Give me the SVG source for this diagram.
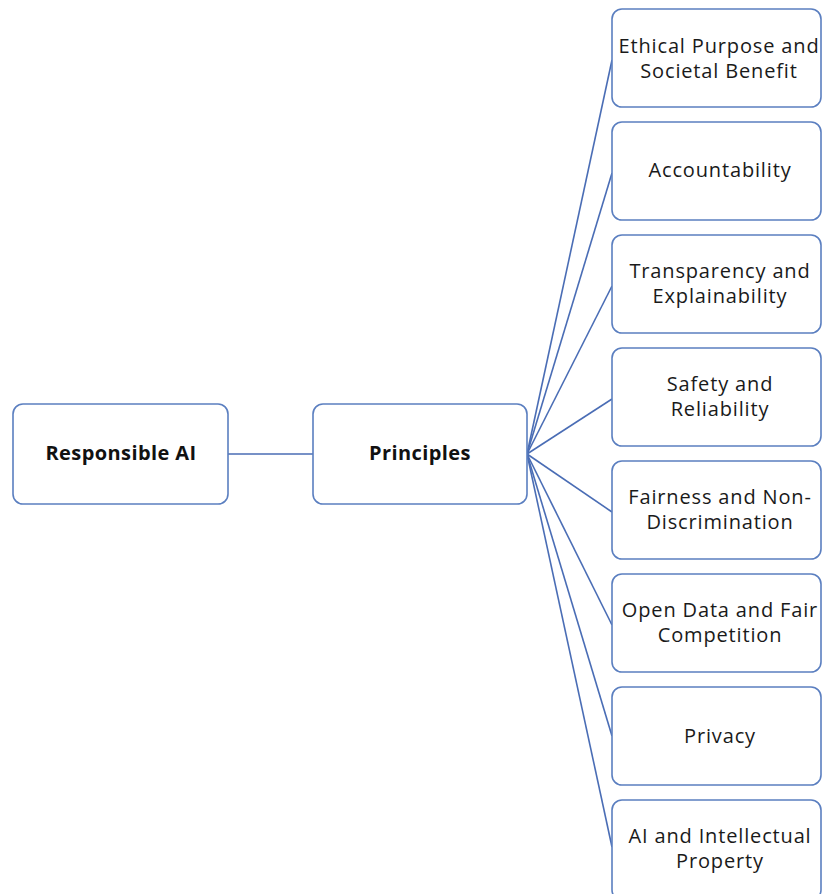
<svg xmlns="http://www.w3.org/2000/svg" width="822" height="894" viewBox="0 0 822 894">
<style>
.box{fill:#fff;stroke:#5b7fc0;stroke-width:1.6}
.t{font-family:"Open Sans","Liberation Sans",sans-serif;font-size:20px;letter-spacing:0.85px;fill:#1a1a1a;text-anchor:middle}
.b{font-family:"Open Sans","Liberation Sans",sans-serif;font-size:20px;letter-spacing:0.4px;font-weight:bold;fill:#111;text-anchor:middle}
.c{stroke:#4a6db5;stroke-width:1.6;fill:none}
</style>
<rect width="822" height="894" fill="#fff"/>
<g id="connectors">
<line class="c" x1="228" y1="454" x2="313" y2="454"/>
<line class="c" x1="527" y1="454" x2="612" y2="60"/>
<line class="c" x1="527" y1="454" x2="612" y2="173"/>
<line class="c" x1="527" y1="454" x2="612" y2="286"/>
<line class="c" x1="527" y1="454" x2="612" y2="399"/>
<line class="c" x1="527" y1="454" x2="612" y2="512"/>
<line class="c" x1="527" y1="454" x2="612" y2="625"/>
<line class="c" x1="527" y1="454" x2="612" y2="736"/>
<line class="c" x1="527" y1="454" x2="612" y2="847"/>
</g>
<g id="responsible-ai"><rect class="box" x="13" y="404" width="215" height="100" rx="10"/><text class="b" x="121" y="460">Responsible AI</text></g>
<g id="principles"><rect class="box" x="313" y="404" width="214" height="100" rx="10"/><text class="b" x="420" y="460">Principles</text></g>
<g id="n1"><rect class="box" x="612" y="9" width="209" height="98" rx="10"/><text class="t" x="719" y="53">Ethical Purpose and</text><text class="t" x="719" y="78">Societal Benefit</text></g>
<g id="n2"><rect class="box" x="612" y="122" width="209" height="98" rx="10"/><text class="t" x="720" y="177">Accountability</text></g>
<g id="n3"><rect class="box" x="612" y="235" width="209" height="98" rx="10"/><text class="t" x="720" y="278">Transparency and</text><text class="t" x="720" y="303">Explainability</text></g>
<g id="n4"><rect class="box" x="612" y="348" width="209" height="98" rx="10"/><text class="t" x="720" y="391">Safety and</text><text class="t" x="720" y="416">Reliability</text></g>
<g id="n5"><rect class="box" x="612" y="461" width="209" height="98" rx="10"/><text class="t" x="720" y="504">Fairness and Non-</text><text class="t" x="720" y="529">Discrimination</text></g>
<g id="n6"><rect class="box" x="612" y="574" width="209" height="98" rx="10"/><text class="t" x="720" y="617">Open Data and Fair</text><text class="t" x="720" y="642">Competition</text></g>
<g id="n7"><rect class="box" x="612" y="687" width="209" height="98" rx="10"/><text class="t" x="720" y="743">Privacy</text></g>
<g id="n8"><rect class="box" x="612" y="800" width="209" height="100" rx="10"/><text class="t" x="720" y="843">AI and Intellectual</text><text class="t" x="720" y="868">Property</text></g>
</svg>
